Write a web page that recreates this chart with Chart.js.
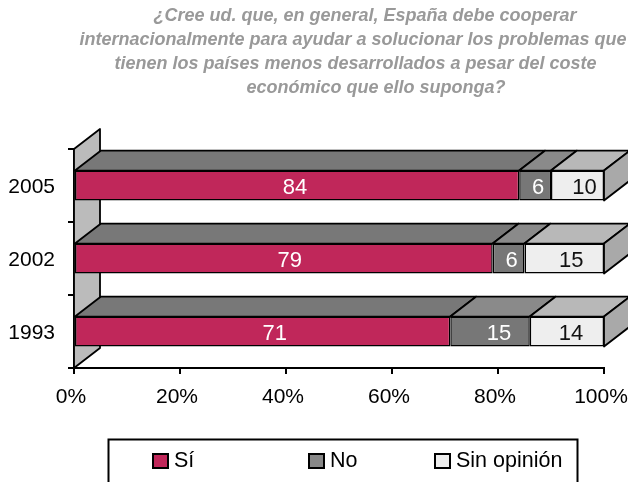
<!DOCTYPE html>
<html>
<head>
<meta charset="utf-8">
<style>
  html, body { margin: 0; padding: 0; background: #fff; overflow: hidden; }
  #wrap { width: 628px; height: 482px; position: relative; }
</style>
<script src="https://cdn.jsdelivr.net/npm/chart.js@4/dist/chart.umd.min.js"></script>
</head>
<body>
<div id="wrap"><canvas id="chart"></canvas></div>
<script>
const years = ['2005', '2002', '1993'];
const si = [84, 79, 71];
const no = [6, 6, 15];
const sinOpinion = [10, 15, 14];
const xTicks = [0, 20, 40, 60, 80, 100];

const titleLines = [
    '¿Cree ud. que, en general, España debe cooperar',
    'internacionalmente para ayudar a solucionar los problemas que',
    'tienen los países menos desarrollados a pesar del coste',
    'económico que ello suponga?'
];
const titleCenters = [365, 353, 355.5, 376];

const FONT = '"Liberation Sans", Arial, sans-serif';
const DX = 26, DY = -20;   // profundidad del efecto 3D
const topColors = ['#787878', '#8a8a8a', '#b8b8b8'];
const sideColor = '#a9a9a9';
const wallColor = '#bbbbbb';
const legendX = [153, 309, 435];
// el original no centra las etiquetas: desplazamiento en px por serie y barra
const labelNudge = [[-2, 6, 12], [3, 3, 9], [7, 7, 4]];

function poly(ctx, pts, fill) {
    ctx.beginPath();
    pts.forEach((p, i) => i ? ctx.lineTo(p[0], p[1]) : ctx.moveTo(p[0], p[1]));
    ctx.closePath();
    ctx.fillStyle = fill;
    ctx.fill();
    ctx.lineWidth = 1.8;
    ctx.strokeStyle = '#000';
    ctx.lineJoin = 'round';
    ctx.stroke();
}

// pared lateral y caras superior / derecha de las barras
const depthPlugin = {
    id: 'depth',
    beforeDatasetsDraw(chart) {
        const { ctx, chartArea: a } = chart;
        ctx.save();
        poly(ctx, [[a.left, a.top], [a.left + DX, a.top + DY], [a.left + DX, a.bottom + DY], [a.left, a.bottom]], wallColor);
        chart.data.datasets.forEach((ds, d) => {
            chart.getDatasetMeta(d).data.forEach(bar => {
                const top = bar.y - bar.height / 2;
                poly(ctx, [[bar.base, top], [bar.base + DX, top + DY], [bar.x + DX, top + DY], [bar.x, top]], topColors[d]);
                if (d === chart.data.datasets.length - 1) {
                    const bottom = bar.y + bar.height / 2;
                    poly(ctx, [[bar.x, top], [bar.x + DX, top + DY], [bar.x + DX, bottom + DY], [bar.x, bottom]], sideColor);
                }
            });
        });
        ctx.restore();
    }
};

// etiquetas de valor, titulo y leyenda
const textPlugin = {
    id: 'texts',
    afterDatasetsDraw(chart) {
        const { ctx } = chart;
        ctx.save();
        ctx.textAlign = 'center';
        ctx.textBaseline = 'middle';
        ctx.font = '22px ' + FONT;
        chart.data.datasets.forEach((ds, d) => {
            chart.getDatasetMeta(d).data.forEach((bar, i) => {
                ctx.fillStyle = ds.labelColor;
                ctx.fillText(ds.data[i], (bar.base + bar.x) / 2 + labelNudge[d][i], bar.y + 2);
            });
        });

        ctx.font = 'italic bold 18px ' + FONT;
        ctx.fillStyle = '#999999';
        ctx.textBaseline = 'alphabetic';
        titleLines.forEach((line, i) => ctx.fillText(line, titleCenters[i], 20.5 + i * 24));

        ctx.lineWidth = 2;
        ctx.strokeStyle = '#000';
        ctx.strokeRect(108.5, 439.5, 469, 60);
        ctx.textAlign = 'left';
        ctx.textBaseline = 'middle';
        ctx.font = '21.5px ' + FONT;
        chart.data.datasets.forEach((ds, d) => {
            ctx.fillStyle = ds.legendColor;
            ctx.lineWidth = 2;
            ctx.fillRect(legendX[d], 454, 15, 14);
            ctx.strokeRect(legendX[d], 454, 15, 14);
            ctx.fillStyle = '#000';
            ctx.fillText(ds.label, legendX[d] + 21, 461);
        });
        ctx.restore();
    }
};

new Chart(document.getElementById('chart'), {
    type: 'bar',
    data: {
        labels: years,
        datasets: [
            { label: 'Sí', data: si, backgroundColor: '#c0275a', legendColor: '#c0275a', labelColor: '#fff' },
            { label: 'No', data: no, backgroundColor: '#777777', legendColor: '#888888', labelColor: '#fff' },
            { label: 'Sin opinión', data: sinOpinion, backgroundColor: '#eeeeee', legendColor: '#eeeeee', labelColor: '#111' }
        ].map(ds => ({ ...ds, borderColor: '#000', borderWidth: 1.5, borderSkipped: false, barPercentage: 0.41, categoryPercentage: 1 }))
    },
    options: {
        indexAxis: 'y',
        responsive: true,
        maintainAspectRatio: false,
        animation: false,
        layout: { padding: { top: 149, right: 24, left: 0, bottom: 0 } },
        plugins: { legend: { display: false }, title: { display: false }, tooltip: { enabled: false } },
        scales: {
            x: {
                stacked: true,
                min: 0,
                max: 100,
                afterFit(scale) { scale.height = 114; scale.paddingLeft = 0; scale.paddingRight = 0; },
                afterBuildTicks(scale) { scale.ticks = xTicks.map(v => ({ value: v })); },
                grid: { drawOnChartArea: false, drawTicks: true, tickLength: 6, color: '#000', lineWidth: 2 },
                border: { color: '#000', width: 2 },
                ticks: {
                    color: '#000',
                    font: { family: FONT, size: 21 },
                    padding: 11,
                    maxRotation: 0,
                    autoSkip: false,
                    labelOffset: -3,
                    callback: v => v + '%'
                }
            },
            y: {
                stacked: true,
                afterFit(scale) { scale.width = 74; },
                grid: { drawOnChartArea: false, drawTicks: true, tickLength: 6, color: '#000', lineWidth: 2 },
                border: { color: '#000', width: 2 },
                ticks: {
                    color: '#000',
                    font: { family: FONT, size: 21 },
                    padding: 13,
                    labelOffset: 2
                }
            }
        }
    },
    plugins: [depthPlugin, textPlugin]
});
</script>
</body>
</html>
